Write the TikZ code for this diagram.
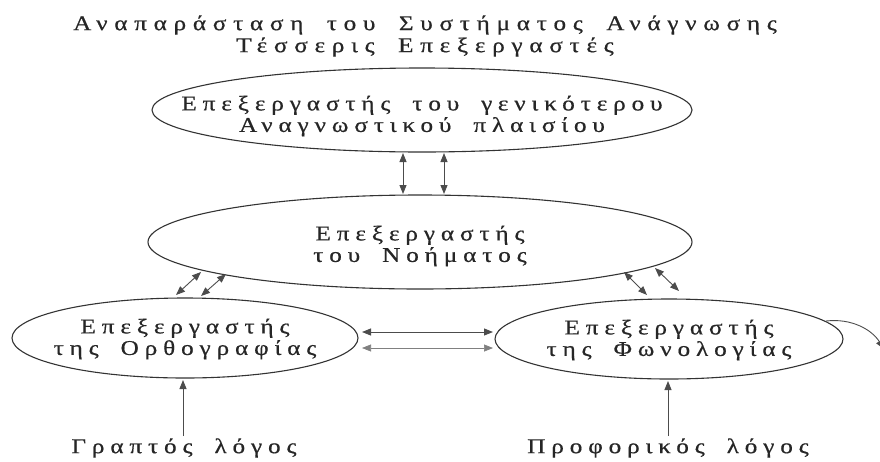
\documentclass[tikz,border=0pt]{standalone}
\usepackage{fontspec}
\setmainfont{Liberation Serif}
\newfontfamily\grfont[LetterSpace=28, FakeStretch=1.2, WordSpace=1.8, FakeBold=0.6]{Liberation Serif}
\newfontfamily\grtitle[LetterSpace=32, FakeStretch=1.2, WordSpace=1.8, FakeBold=0.6]{Liberation Serif}
\usetikzlibrary{shapes.geometric,arrows.meta}
\tikzset{
  oval/.style={draw=black!80, line width=1.1pt, ellipse, inner sep=0pt},
  txt/.style={font=\grfont\fontsize{21}{21.5}\selectfont, text=black!85, align=center, inner sep=0pt},
  ttl/.style={font=\grtitle\fontsize{21}{22}\selectfont, text=black!85, align=center, inner sep=0pt},
  biarrow/.style={line width=0.9pt, <->, color=black!70},
  uparrow/.style={line width=0.9pt, ->, color=black!70},
}
\begin{document}
\begin{tikzpicture}[x=1pt,y=-1pt, >={Triangle[length=9pt,width=7pt]}]
\useasboundingbox (0,0) rectangle (880,461);
% title
\node[ttl] (title) at (425,36) {Αναπαράσταση του Συστήματος Ανάγνωσης\\Τέσσερις Επεξεργαστές};
% ellipses
\node[oval, minimum width=540pt, minimum height=84pt] (top) at (422,110) {};
\node[txt] (topt) at (422,116) {Επεξεργαστής του γενικότερου\\Αναγνωστικού πλαισίου};
\node[oval, minimum width=544pt, minimum height=94pt] (mid) at (420,242) {};
\node[txt] (midt) at (420,246) {Επεξεργαστής\\του Νοήματος};
\node[oval, minimum width=346pt, minimum height=80pt] (orth) at (185,338) {};
\node[txt] (ortht) at (185,339) {Επεξεργαστής\\της Ορθογραφίας};
\node[oval, minimum width=348pt, minimum height=80pt] (phon) at (669,339) {};
\node[txt] (phont) at (669,340) {Επεξεργαστής\\της Φωνολογίας};
% bottom labels
\node[txt] (graptos) at (184,448) {Γραπτός λόγος};
\node[txt] (proforikos) at (668,448) {Προφορικός λόγος};
% connector end points
\coordinate (v1a) at (403,153); \coordinate (v1b) at (403,194);
\coordinate (v2a) at (444,153); \coordinate (v2b) at (444,194);
\coordinate (l1a) at (176,295); \coordinate (l1b) at (201,272);
\coordinate (l2a) at (201,296); \coordinate (l2b) at (226,274);
\coordinate (r1a) at (624,272); \coordinate (r1b) at (647,295);
\coordinate (r2a) at (655,268); \coordinate (r2b) at (679,291);
\coordinate (h1a) at (362,332); \coordinate (h1b) at (493,332);
\coordinate (h2a) at (362,348); \coordinate (h2b) at (493,348);
\coordinate (g1) at (183,436); \coordinate (g2) at (183,380);
\coordinate (p1) at (668,436); \coordinate (p2) at (668,381);
\coordinate (c1) at (826,321); \coordinate (c2) at (884,349);
% connectors
\draw[biarrow] (v1a) -- (v1b);
\draw[biarrow] (v2a) -- (v2b);
\draw[biarrow] (l1a) -- (l1b);
\draw[biarrow] (l2a) -- (l2b);
\draw[biarrow] (r1a) -- (r1b);
\draw[biarrow] (r2a) -- (r2b);
\draw[biarrow] (h1a) -- (h1b);
\draw[biarrow, color=black!50, line width=0.7pt] (h2a) -- (h2b);
\draw[uparrow] (g1) -- (g2);
\draw[uparrow] (p1) -- (p2);
\draw[uparrow] (c1) .. controls (852,318) and (872,330) .. (c2);
\end{tikzpicture}
\end{document}
